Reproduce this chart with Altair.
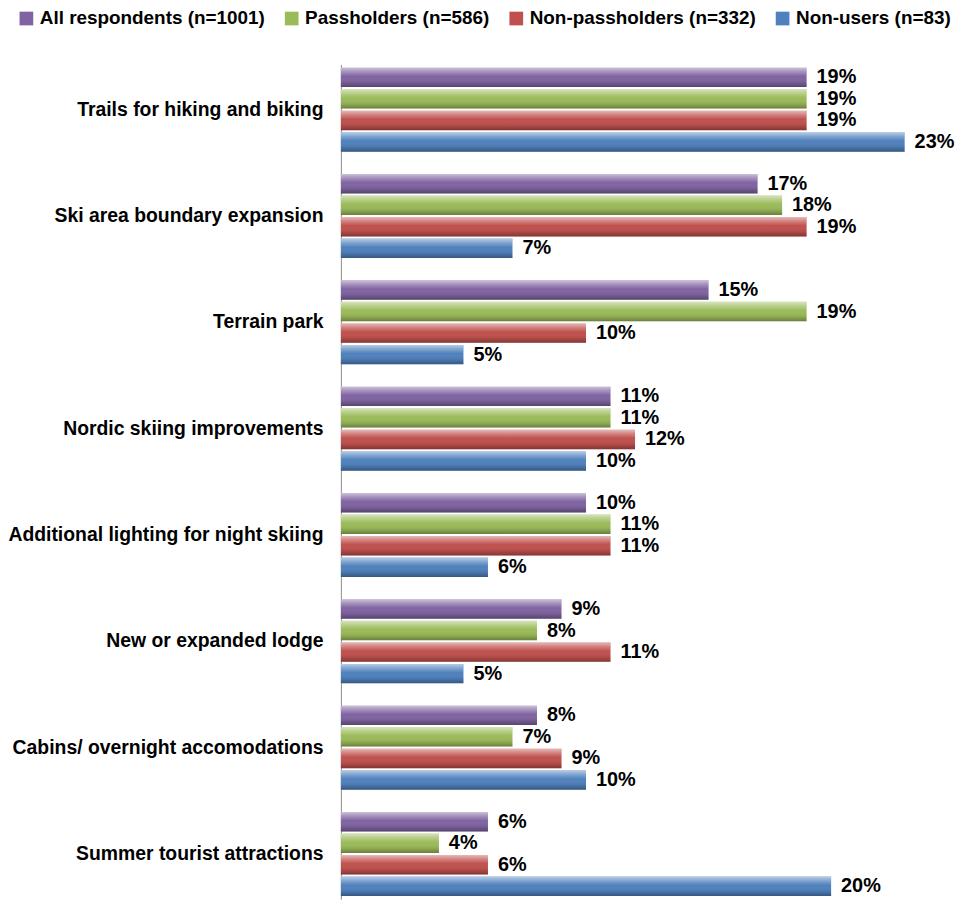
import altair as alt
import pandas as pd

categories = [
    "Trails for hiking and biking",
    "Ski area boundary expansion",
    "Terrain park",
    "Nordic skiing improvements",
    "Additional lighting for night skiing",
    "New or expanded lodge",
    "Cabins/ overnight accomodations",
    "Summer tourist attractions",
]
series = [
    "All respondents (n=1001)",
    "Passholders (n=586)",
    "Non-passholders (n=332)",
    "Non-users (n=83)",
]
all_resp = [19, 17, 15, 11, 10, 9, 8, 6]
passholders = [19, 18, 19, 11, 11, 8, 7, 4]
non_pass = [19, 19, 10, 12, 11, 11, 9, 6]
non_users = [23, 7, 5, 10, 6, 5, 10, 20]
colors = ["#8064A2", "#9BBB59", "#C0504D", "#4F81BD"]

rows = []
for s, vals in zip(series, [all_resp, passholders, non_pass, non_users]):
    for c, v in zip(categories, vals):
        rows.append({"category": c, "series": s, "value": v, "label": f"{v}%"})
df = pd.DataFrame(rows)

font = "Liberation Sans"

y_enc = alt.Y("category:N", sort=categories,
              scale=alt.Scale(paddingInner=0.21, paddingOuter=0.03),
              axis=alt.Axis(title=None, ticks=False, grid=False, domainColor="#8c8c8c",
                            domainWidth=1, labelFont=font, labelFontSize=19.5,
                            labelFontWeight="bold", labelColor="#000000",
                            labelPadding=18, labelLimit=400))
yoff = alt.YOffset("series:N", sort=series,
                   scale=alt.Scale(paddingInner=0.1, paddingOuter=0))
x_enc = alt.X("value:Q", scale=alt.Scale(domain=[0, 24], nice=False), axis=None)

base = alt.Chart(df)

bars = base.mark_bar(cornerRadius=0).encode(
    x=x_enc, y=y_enc, yOffset=yoff,
    color=alt.Color("series:N", sort=series,
                    scale=alt.Scale(domain=series, range=colors),
                    legend=alt.Legend(title=None, orient="none", direction="horizontal",
                                      legendX=-326, legendY=-56, symbolType="square",
                                      symbolSize=190, symbolStrokeWidth=0,
                                      symbolOpacity=1, labelFont=font,
                                      labelFontSize=19, labelFontWeight="bold",
                                      labelColor="#000000", labelOffset=4,
                                      columnPadding=17, padding=0, labelLimit=400)),
)

shade = alt.LinearGradient(
    gradient="linear", x1=0, y1=0, x2=0, y2=1,
    stops=[
        alt.GradientStop(color="rgba(255,255,255,0.6)", offset=0),
        alt.GradientStop(color="rgba(255,255,255,0.3)", offset=0.2),
        alt.GradientStop(color="rgba(255,255,255,0.0)", offset=0.45),
        alt.GradientStop(color="rgba(0,0,0,0.12)", offset=0.8),
        alt.GradientStop(color="rgba(0,0,0,0.32)", offset=1),
    ],
)
overlay = base.mark_bar(color=shade).encode(x=x_enc, y=y_enc, yOffset=yoff)

labels = base.mark_text(align="left", baseline="middle", dx=10, font=font,
                        fontSize=20, fontWeight="bold", color="#000000").encode(
    x=x_enc, y=y_enc, yOffset=yoff, text="label:N")

chart = alt.layer(bars, overlay, labels).properties(
    width=592, height=840,
    autosize=alt.AutoSizeParams(type="none"),
    padding={"left": 335, "top": 54, "right": 26, "bottom": 1},
).configure_view(stroke=None)

chart.save("out.html", embed_options={"renderer": "svg", "actions": False})
